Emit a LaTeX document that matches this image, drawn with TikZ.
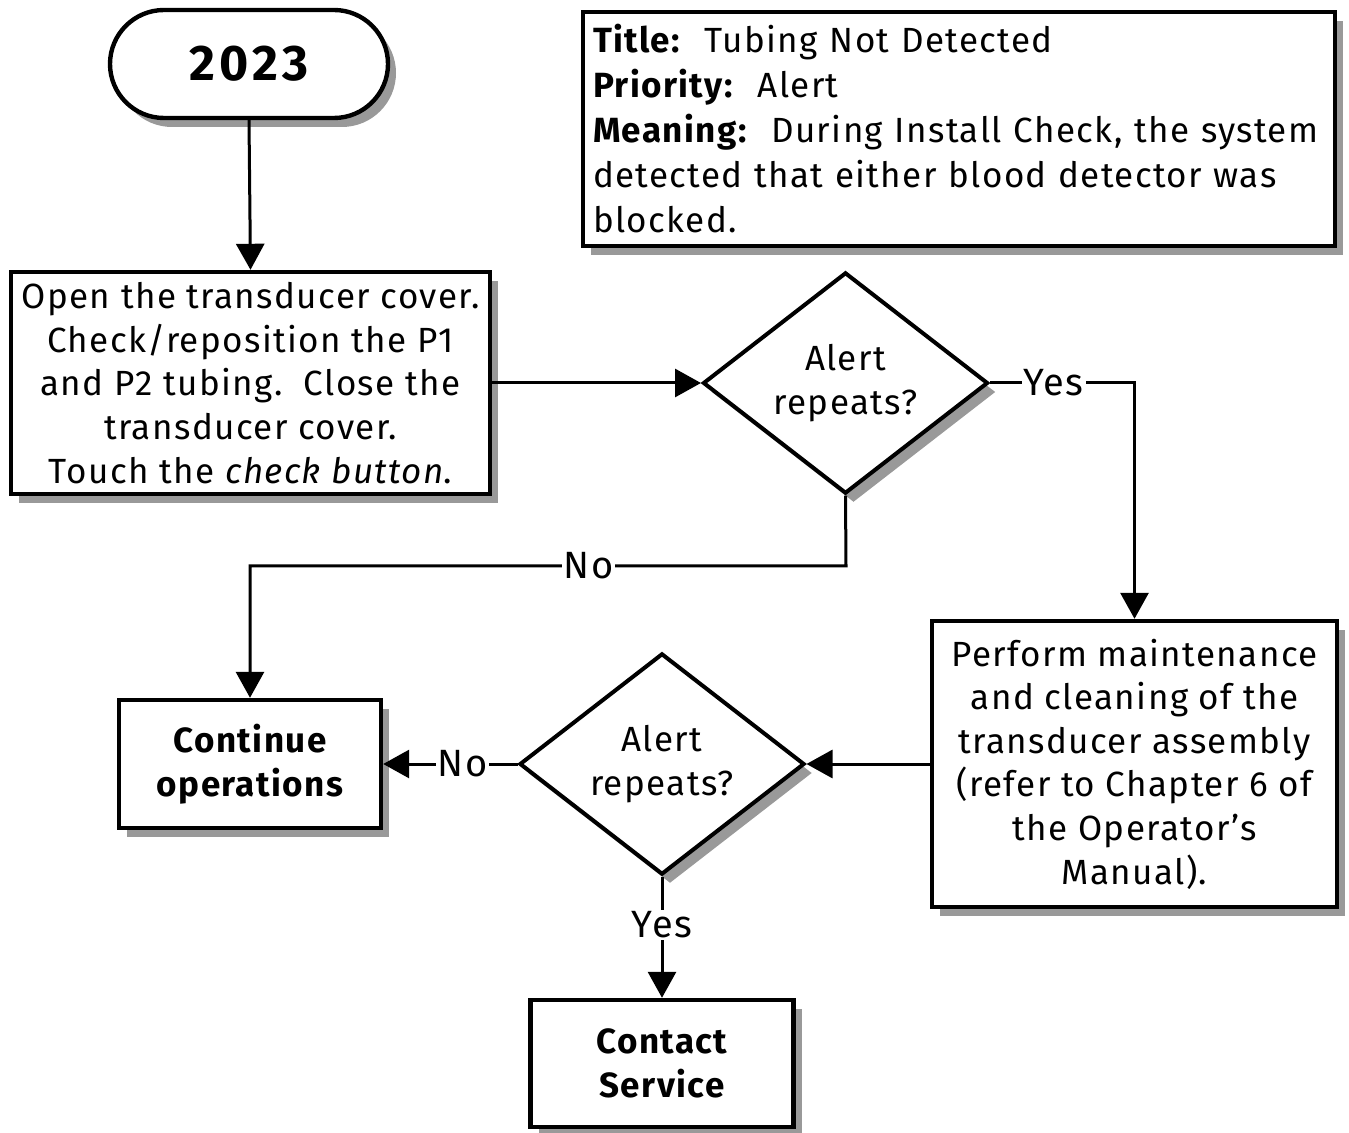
\documentclass[tikz,border=0pt]{standalone}
\usepackage{fontspec}
\setmainfont{Fira Sans}[LetterSpace=4]
\usetikzlibrary{positioning,shapes.geometric,shapes.misc,arrows.meta,shadows}

\begin{document}
\begin{tikzpicture}[x=0.5pt,y=-0.5pt,
  every node/.style={font=\fontsize{17.5}{21.8}\selectfont},
  box/.style={draw,line width=2.2pt,fill=white,align=center,inner sep=0pt,
    drop shadow={shadow xshift=4pt,shadow yshift=-4.5pt,fill=black!40,opacity=1}},
  decide/.style={box,diamond,line width=2pt,minimum width=142.5pt,minimum height=110pt},
  flow/.style={line width=1.5pt,-{Triangle[length=13pt,width=14pt]}},
  lbl/.style={fill=white,inner sep=1pt,font=\fontsize{19}{22}\selectfont}]
  \useasboundingbox (0,0) rectangle (1349,1133);
  % start and info
  \node[box,rounded rectangle,minimum width=139pt,minimum height=54pt,
    font=\fontsize{25}{28}\selectfont\bfseries\addfontfeatures{LetterSpace=8}] (start) at (249,64) {2023};
  \node[box,rectangle,minimum width=376pt,minimum height=117pt,text width=366pt,
    align=left,font=\fontsize{17.5}{22.5}\selectfont] (info) at (959,129)
    {\textbf{Title:}\ \ Tubing Not Detected\\
     \textbf{Priority:}\ \ Alert\\
     \textbf{Meaning:}\ \ During Install Check, the system\\
     detected that either blood detector was\\
     blocked.};
  % steps
  \node[box,rectangle,minimum width=239.5pt,minimum height=111pt] (check) at (250.5,383)
    {Open the transducer cover.\\ Check/reposition the P1\\ and P2 tubing.\ \ Close the\\
     transducer cover.\\ Touch the \textit{check button}.};
  \node[decide] (rep1) at (845.5,383) {Alert\\ repeats?};
  \node[box,rectangle,minimum width=202.5pt,minimum height=143pt] (maint) at (1134.5,764)
    {Perform maintenance\\ and cleaning of the\\ transducer assembly\\
     (refer to Chapter 6 of\\ the Operator’s\\ Manual).};
  \node[decide] (rep2) at (662,764) {Alert\\ repeats?};
  \node[box,rectangle,minimum width=131pt,minimum height=64pt,font=\fontsize{17.5}{21.8}\selectfont\bfseries]
    (cont) at (250,764) {Continue\\ operations};
  \node[box,rectangle,minimum width=131.5pt,minimum height=63.5pt,font=\fontsize{17.5}{21.8}\selectfont\bfseries]
    (contact) at (662,1063.5) {Contact\\ Service};
  % connectors
  \coordinate (nobend) at (846,566);
  \draw[flow] (start.south) -- (check.north);
  \draw[flow] (check.east) -- (rep1.west);
  \draw[flow] (rep1.east) -| node[lbl,pos=0.22]{Yes} (maint.north);
  \draw[flow] (rep1.south) -- (nobend) -| node[lbl,pos=0.216]{No} (cont.north);
  \draw[flow] (maint.west) -- (rep2.east);
  \draw[flow] (rep2.west) -- node[lbl,pos=0.41]{No} (cont.east);
  \draw[flow] (rep2.south) -- node[lbl,pos=0.4]{Yes} (contact.north);
\end{tikzpicture}
\end{document}
